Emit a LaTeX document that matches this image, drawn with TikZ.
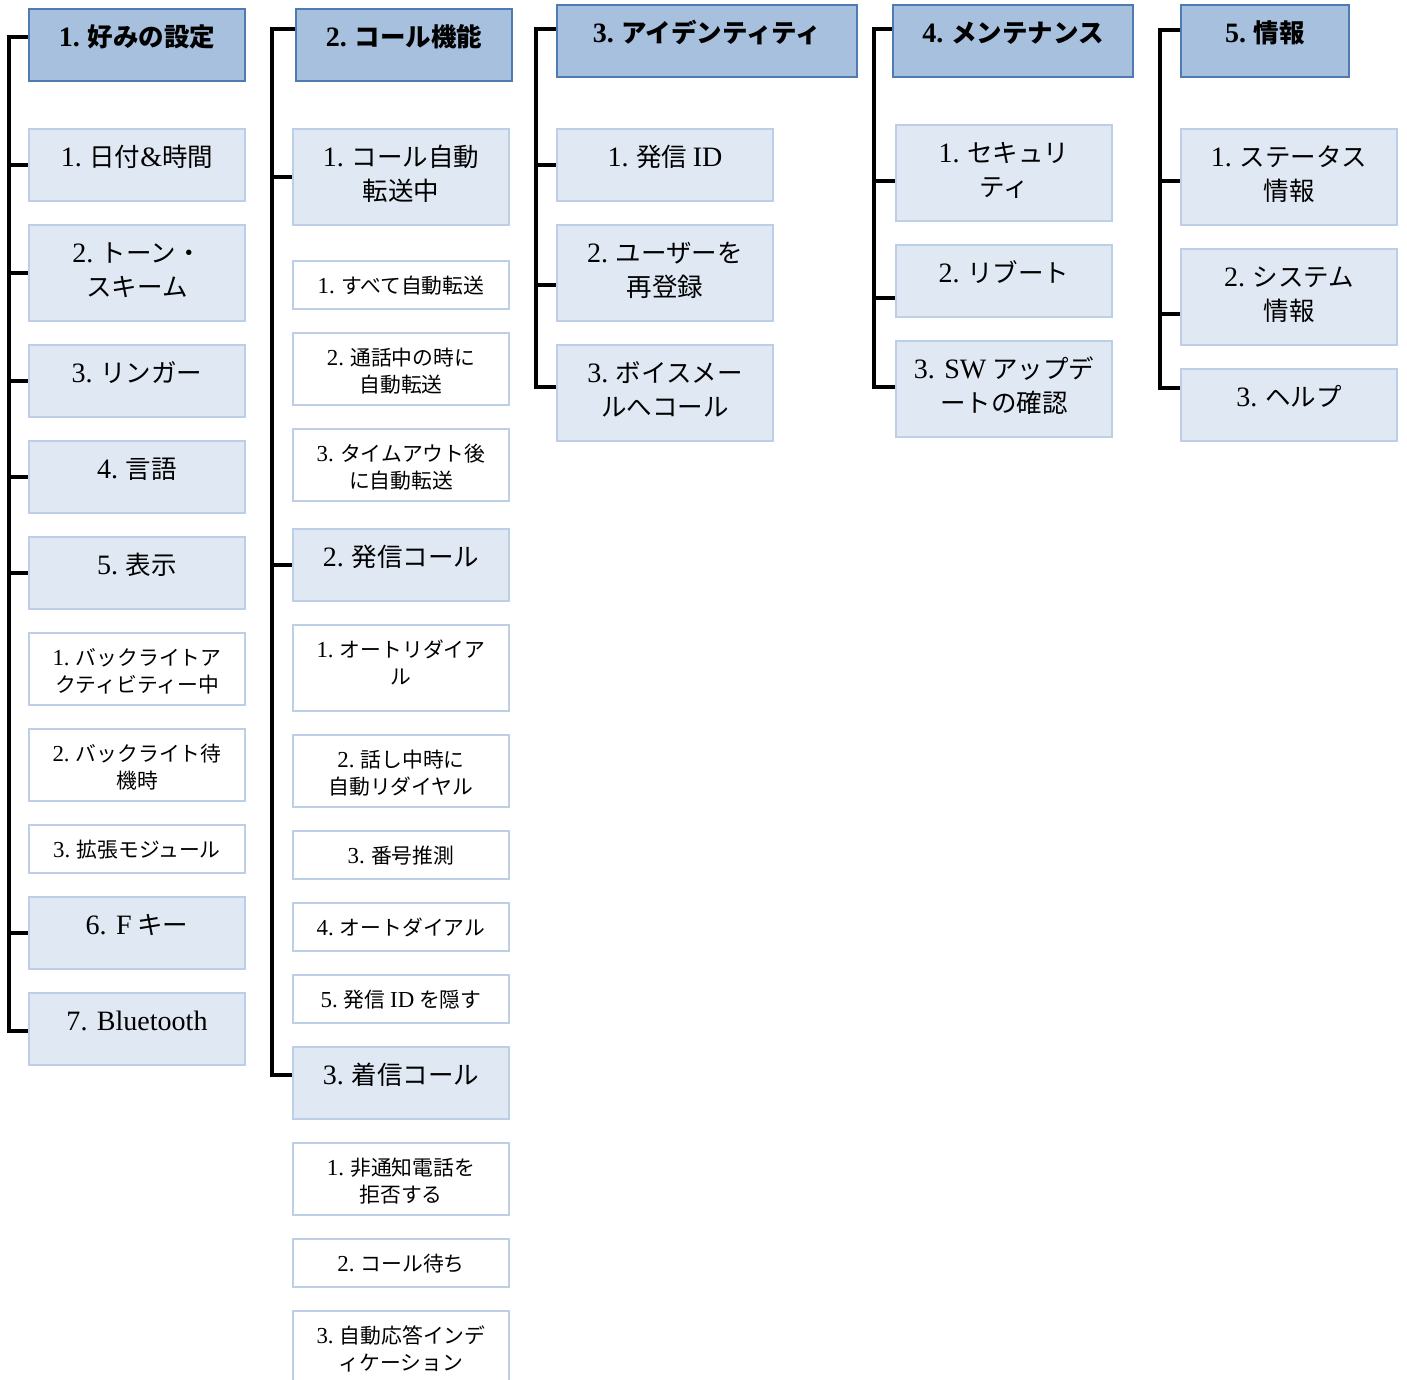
\documentclass[tikz,border=0pt]{standalone}
\usepackage{fontspec}
\setmainfont{Liberation Serif}[Scale=1.1]
\newfontfamily\jp{Noto Sans CJK JP}
\newcommand\lat[1]{{\rmfamily #1}}
\usetikzlibrary{positioning, calc}

\definecolor{hdfill}{RGB}{167,192,222}
\definecolor{hddraw}{RGB}{79,122,178}
\definecolor{subfill}{RGB}{223,232,243}
\definecolor{subdraw}{RGB}{188,207,231}

\begin{document}
\begin{tikzpicture}[
    x=0.5pt, y=-0.5pt,
    every node/.style={anchor=north west, align=center, inner ysep=0pt, inner xsep=3pt},
    head/.style={fill=hdfill, draw=hddraw, line width=1pt, minimum width=#1, font=\jp\bfseries\fontsize{12.75}{17}\selectfont, text height=18.85pt, text depth=17.15pt},
    head/.default=108pt,
    sub/.style={fill=subfill, draw=subdraw, line width=1pt, minimum width=108pt, font=\jp\fontsize{12.75}{17}\selectfont, text height=18.85pt, text depth=17.15pt},
    tall/.style={text height=35.85pt, text depth=12.15pt},
    leaf/.style={fill=white, draw=subdraw, line width=1pt, minimum width=108pt, font=\jp\fontsize{10.4}{13.5}\selectfont, text height=16pt, text depth=8pt},
    leaftwo/.style={text height=29.5pt, text depth=6.5pt},
    leafthree/.style={text height=29.5pt, text depth=13.5pt},
    link/.style={draw=black, line width=2.25pt}
]
\useasboundingbox (0,0) rectangle (1407,1380);

% 1. preferences
\node (h1) [head] at (28,8) {\lat{1.} 好みの設定};
\node (c11) [sub] at (28,128) {\lat{1.} 日付\lat{\&}時間};
\node (c12) [sub, tall] at (28,224) {\lat{2.} トーン・\\スキーム};
\node (c13) [sub] at (28,344) {\lat{3.} リンガー};
\node (c14) [sub] at (28,440) {\lat{4.} 言語};
\node (c15) [sub] at (28,536) {\lat{5.} 表示};
\node (l151) [leaf, leaftwo] at (28,632) {\lat{1.} バックライトア\\クティビティー中};
\node (l152) [leaf, leaftwo] at (28,728) {\lat{2.} バックライト待\\機時};
\node (l153) [leaf] at (28,824) {\lat{3.} 拡張モジュール};
\node (c16) [sub] at (28,896) {\lat{6. F} キー};
\node (c17) [sub] at (28,992) {\lat{7. Bluetooth}};

% 2. call features
\node (h2) [head] at (295,8) {\lat{2.} コール機能};
\node (c21) [sub, tall] at (292,128) {\lat{1.} コール自動\\転送中};
\node (l211) [leaf] at (292,260) {\lat{1.} すべて自動転送};
\node (l212) [leaf, leaftwo] at (292,332) {\lat{2.} 通話中の時に\\自動転送};
\node (l213) [leaf, leaftwo] at (292,428) {\lat{3.} タイムアウト後\\に自動転送};
\node (c22) [sub] at (292,528) {\lat{2.} 発信コール};
\node (l221) [leaf, leafthree] at (292,624) {\lat{1.} オートリダイア\\ル};
\node (l222) [leaf, leaftwo] at (292,734) {\lat{2.} 話し中時に\\自動リダイヤル};
\node (l223) [leaf] at (292,830) {\lat{3.} 番号推測};
\node (l224) [leaf] at (292,902) {\lat{4.} オートダイアル};
\node (l225) [leaf] at (292,974) {\lat{5.} 発信 \lat{ID} を隠す};
\node (c23) [sub] at (292,1046) {\lat{3.} 着信コール};
\node (l231) [leaf, leaftwo] at (292,1142) {\lat{1.} 非通知電話を\\拒否する};
\node (l232) [leaf] at (292,1238) {\lat{2.} コール待ち};
\node (l233) [leaf, leaftwo] at (292,1310) {\lat{3.} 自動応答インデ\\ィケーション};

% 3. identity
\node (h3) [head=150pt] at (556,4) {\lat{3.} アイデンティティ};
\node (c31) [sub] at (556,128) {\lat{1.} 発信 \lat{ID}};
\node (c32) [sub, tall] at (556,224) {\lat{2.} ユーザーを\\再登録};
\node (c33) [sub, tall] at (556,344) {\lat{3.} ボイスメー\\ルへコール};

% 4. maintenance
\node (h4) [head=120pt] at (892,4) {\lat{4.} メンテナンス};
\node (c41) [sub, tall] at (895,124) {\lat{1.} セキュリ\\ティ};
\node (c42) [sub] at (895,244) {\lat{2.} リブート};
\node (c43) [sub, tall] at (895,340) {\lat{3. SW} アップデ\\ートの確認};

% 5. info
\node (h5) [head=84pt] at (1180,4) {\lat{5.} 情報};
\node (c51) [sub, tall] at (1180,128) {\lat{1.} ステータス\\情報};
\node (c52) [sub, tall] at (1180,248) {\lat{2.} システム\\情報};
\node (c53) [sub] at (1180,368) {\lat{3.} ヘルプ};

% trunks
\coordinate (k1) at (9,1031);
\coordinate (k2) at (272,1075);
\coordinate (k3) at (536,387);
\coordinate (k4) at (874,387);
\coordinate (k5) at (1160,388);

\draw[link] ([yshift=4pt]h1.west) -| (k1) -- (k1 -| c17.west);
\foreach \n in {c11,c12,c13,c14,c15,c16}
  \draw[link] (k1 |- \n.west) -- (\n.west);

\draw[link] ([yshift=8pt]h2.west) -| (k2) -- (k2 -| c23.west);
\draw[link] (k2 |- c21.west) -- (c21.west);
\draw[link] (k2 |- c22.west) -- (c22.west);

\draw[link] ([yshift=6pt]h3.west) -| (k3) -- (k3 -| c33.west);
\draw[link] (k3 |- c31.west) -- (c31.west);
\draw[link] ([yshift=-6pt]k3 |- c32.west) -- ([yshift=-6pt]c32.west);

\draw[link] ([yshift=6pt]h4.west) -| (k4) -- (k4 -| c43.west);
\draw[link] ([yshift=-4pt]k4 |- c41.west) -- ([yshift=-4pt]c41.west);
\draw[link] ([yshift=-8.5pt]k4 |- c42.west) -- ([yshift=-8.5pt]c42.west);

\draw[link] ([yshift=5.5pt]h5.west) -| (k5) -- (k5 -| c53.west);
\draw[link] ([yshift=-2pt]k5 |- c51.west) -- ([yshift=-2pt]c51.west);
\draw[link] ([yshift=-8.5pt]k5 |- c52.west) -- ([yshift=-8.5pt]c52.west);

\end{tikzpicture}
\end{document}
